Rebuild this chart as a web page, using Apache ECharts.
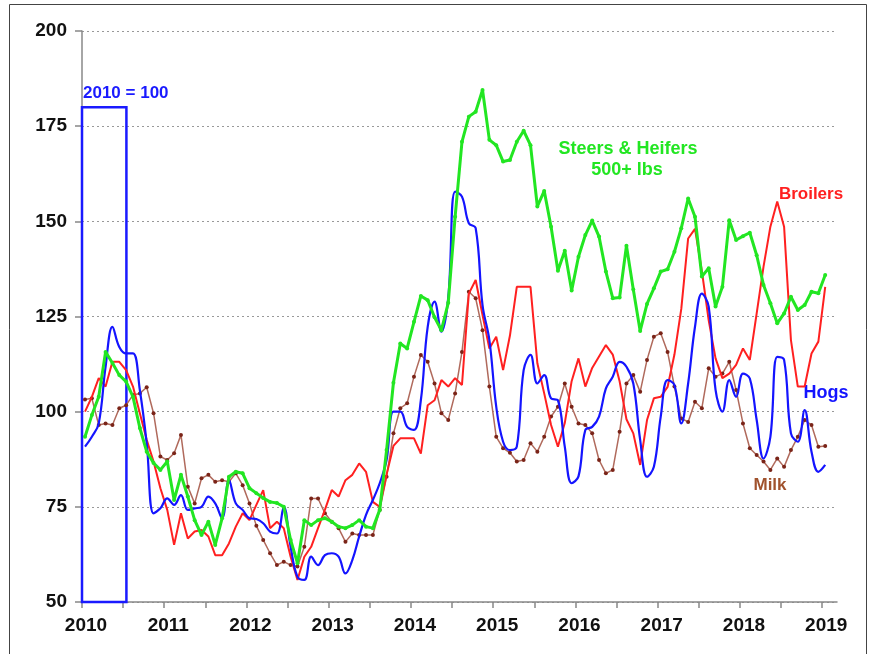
<!DOCTYPE html>
<html><head><meta charset="utf-8">
<script src="https://cdn.jsdelivr.net/npm/echarts@6/dist/echarts.min.js"></script>
<style>html,body{margin:0;padding:0;background:#fff}#c{width:869px;height:654px}</style>
</head><body><div id="c"></div>
<script>
// Monthly index values, Jan 2010 – Jan 2019 (2010 = 100)
const startYear = 2010;
const steers = [93.4,99.1,103.9,115.7,112.8,109.6,107.9,103.9,95.7,89.5,86.5,84.7,
86.9,76.8,83.4,77.7,71.5,67.6,71.1,65,72,82.9,84.2,83.8,
79.9,78.6,77.3,76.3,76,75,66.3,60.2,71.5,70.2,71.5,72,
71.1,69.8,69.4,70.2,71.5,69.8,69.4,74.2,89.9,107.6,117.9,116.6,
123.6,130.4,129.3,124.8,121.4,128.6,151.2,170.9,177.5,178.8,184.5,171.4,
170,165.7,166.1,170.9,173.8,170,153.9,158,148.6,137,142.3,131.8,
140.7,146.4,150.2,146,136.8,129.8,130,143.6,132.1,121.2,128.3,132.4,
136.8,137.4,142,148.2,156,151.2,135.5,137.7,127.6,132.8,150.3,145.1,
146.1,147,141.1,133.3,128.5,123.2,125.8,130.2,126.7,128,131.5,131.1,
135.9];
const hogs = [90.8,93.4,96.9,111.8,122.3,117,115.3,115.3,105.7,91.7,73.3,74.6,
77.2,75.5,78.1,74.2,74.6,75,77.7,75.9,72,82,75.9,74.2,
72,71.8,70.7,68.5,68,75,64.5,56.6,55.8,61.9,59.7,62.3,
62.8,61.9,57.5,61,67.2,72.9,76.8,81.2,87.3,100,100,96,
95.2,103,122.3,128.9,121,130,157.8,156.5,149.5,148.2,128,118.8,
101.3,92.1,89.9,90.8,110.9,114.9,107.4,109.6,103.5,103,90.8,81.2,
83,95.2,96,98.7,106.1,109.2,113.1,111.8,107.4,92.6,82.9,85.5,
98.7,108.3,107,96.9,107.4,122.3,131,127.6,105.7,100,108.3,103.9,
110,108.7,97.8,87.7,93.4,114.4,113.6,94.3,92.1,100.4,89.5,84.2,
86];
const broilers = [100,103.9,108.8,106.6,113.1,113.1,110.9,106.6,99.6,92.6,86.9,79.9,
74.2,65,73.3,66.7,68.5,68.9,67.2,62.3,62.3,65.4,69.8,73.3,
71.5,75.5,79.4,69.4,71.1,69.4,61.9,55.8,61.9,64.5,69.4,74.2,
79.4,77.7,82,83.4,86.4,84.2,76.3,75,83.5,91,93,93,
93,89,101.7,103,108.3,106.6,108.8,107,131,134.6,125.4,116.6,
119.7,110.9,120,132.8,132.8,132.8,112.7,104.8,96.5,90.8,97,108,
114,106.6,111.5,114.5,117.5,115,108,98,94.3,86,97.8,103.5,
103.9,106.5,115,127,145.5,148,137,124,114,108.8,110,112.3,
116.6,113.6,125.8,138.1,148.6,155.2,148.6,118.8,106.6,106.6,115.3,118.4,
132.8];
const milk = [103.2,103.5,96.5,96.9,96.5,100.9,101.7,104.4,104.8,106.4,99.6,88.2,
87.3,89.1,93.9,80.3,75.9,82.5,83.4,81.6,82,81.6,83.8,80.7,
75.9,70,66.3,62.8,59.7,60.6,59.7,59.3,64.5,77.2,77.2,73.3,
71.1,69.4,65.8,68,67.6,67.6,67.6,74.2,82.9,94.3,100.9,102.2,
109.2,114.9,113.1,107.4,99.6,97.8,104.8,115.7,131.5,129.8,121.4,106.6,
93.4,90.4,89.2,86.9,87.3,91.7,89.5,93.4,98.7,101.3,107.4,101.3,
96.9,96.5,94.3,87.3,83.8,84.7,94.7,107.4,109.6,105.2,113.6,119.7,
120.6,115.7,106.6,98.2,97.3,102.6,100.9,111.4,109.2,110,113.1,105.7,
96.9,90.4,88.6,86.9,84.7,87.7,85.5,89.9,93.4,97.8,96.5,90.8,
91];
const yearLabels = [2010,2011,2012,2013,2014,2015,2016,2017,2018,2019];
const halfYearTicks = [2010,2010.5,2011,2011.5,2012,2012.5,2013,2013.5,2014,2014.5,2015,2015.5,2016,2016.5,2017,2017.5,2018,2018.5,2019];
const baseBox = {from: 2010, to: 2010.54, top: 180};

const toXY = arr => arr.map((v, i) => [startYear + (i + 0.44) / 12, v]);
const FONT = "'Liberation Sans', Arial, sans-serif";

const chart = echarts.init(document.getElementById('c'), null, {renderer: 'canvas'});
chart.setOption({
  animation: false,
  backgroundColor: '#fff',
  grid: {left: 82, top: 31, right: 32, bottom: 52},
  xAxis: {
    type: 'value', min: 2010, max: 2019.18,
    axisLine: {show: true, lineStyle: {color: '#888', width: 1.5}},
    axisTick: {show: true, customValues: halfYearTicks, length: 6, lineStyle: {color: '#888', width: 1.5}},
    axisLabel: {customValues: yearLabels, formatter: v => String(Math.round(v)),
      color: '#111', fontFamily: FONT, fontWeight: 'bold', fontSize: 19, margin: 14, padding: [0,0,0,8]},
    splitLine: {show: false}
  },
  yAxis: {
    type: 'value', min: 50, max: 200, interval: 25,
    axisLine: {show: true, lineStyle: {color: '#888', width: 1.5}},
    axisTick: {show: true, length: 7, lineStyle: {color: '#888', width: 1.5}},
    axisLabel: {color: '#111', fontFamily: FONT, fontWeight: 'bold', fontSize: 19, margin: 15},
    splitLine: {show: true, lineStyle: {type: [2, 3], color: '#999', width: 1}}
  },
  series: [
    {name: 'Milk', type: 'line', data: toXY(milk), z: 2,
     lineStyle: {color: '#b06a5c', width: 1.5},
     symbol: 'circle', symbolSize: 4, showAllSymbol: true,
     itemStyle: {color: '#7a2418'},
     markLine: {silent: true, symbol: ['none', 'none'], label: {show: false},
       lineStyle: {type: 'solid', color: '#000', width: 2},
       data: [[{coord: [2009.854, 100]}, {coord: [2019.294, 100]}]]},
     markArea: {silent: true, label: {show: false},
       itemStyle: {color: 'rgba(0,0,0,0)', borderColor: '#1a1aff', borderWidth: 2.5},
       data: [[{coord: [baseBox.from, baseBox.top]}, {coord: [baseBox.to, 50]}]]}
    },
    {name: 'Broilers', type: 'line', data: toXY(broilers), z: 3, symbol: 'none',
     lineStyle: {color: '#ff2020', width: 2}},
    {name: 'Hogs', type: 'line', data: toXY(hogs), z: 4, symbol: 'none', smooth: 0.4,
     lineStyle: {color: '#1414ff', width: 2.2}},
    {name: 'Steers', type: 'line', data: toXY(steers), z: 5,
     symbol: 'circle', symbolSize: 4, showAllSymbol: true,
     lineStyle: {color: '#22e622', width: 3}, itemStyle: {color: '#22e622'}}
  ],
  graphic: [
    {type: 'rect', silent: true, shape: {x: 9.5, y: 4.5, width: 857, height: 700},
     style: {fill: 'transparent', stroke: '#444', lineWidth: 1}},
    {type: 'text', silent: true, style: {text: '2010 = 100', x: 83, y: 93, fill: '#1a1aff',
      font: 'bold 17px ' + FONT, textAlign: 'left', textVerticalAlign: 'middle'}},
    {type: 'text', silent: true, style: {text: 'Steers & Heifers', x: 628, y: 149, fill: '#22e622',
      font: 'bold 18px ' + FONT, textAlign: 'center', textVerticalAlign: 'middle'}},
    {type: 'text', silent: true, style: {text: '500+ lbs', x: 627, y: 170, fill: '#22e622',
      font: 'bold 18px ' + FONT, textAlign: 'center', textVerticalAlign: 'middle'}},
    {type: 'text', silent: true, style: {text: 'Broilers', x: 811, y: 194, fill: '#ff2020',
      font: 'bold 17px ' + FONT, textAlign: 'center', textVerticalAlign: 'middle'}},
    {type: 'text', silent: true, style: {text: 'Hogs', x: 826, y: 393, fill: '#1414ff',
      font: 'bold 18px ' + FONT, textAlign: 'center', textVerticalAlign: 'middle'}},
    {type: 'text', silent: true, style: {text: 'Milk', x: 770, y: 485, fill: '#a0522d',
      font: 'bold 17px ' + FONT, textAlign: 'center', textVerticalAlign: 'middle'}}
  ]
});
</script>
</body></html>
